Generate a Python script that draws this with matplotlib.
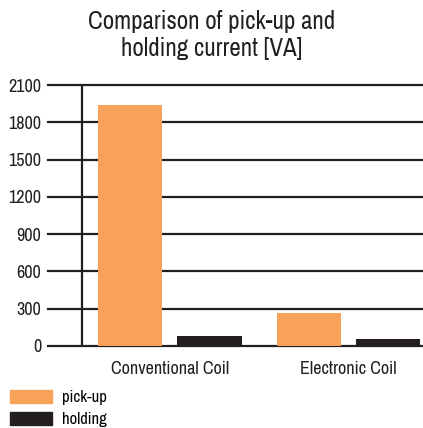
import matplotlib.pyplot as plt
from matplotlib.patches import Patch

# data
categories = ["Conventional Coil", "Electronic Coil"]
pickup = [1940, 265]
holding = [82, 60]
yticks = [0, 300, 600, 900, 1200, 1500, 1800, 2100]

orange = "#F7A15A"
dark = "#231F20"
plt.rcParams["font.family"] = ["Archivo Narrow", "DejaVu Sans"]

fig = plt.figure(figsize=(4.23, 4.28), dpi=100)
ax = fig.add_axes([48 / 423, 1 - 346 / 428, 375 / 423, 261 / 428])

x = [0, 1]
off = 0.222
w = 0.36
ax.bar([i - off for i in x], pickup, width=w, color=orange, zorder=3)
ax.bar([i + off for i in x], holding, width=w, color=dark, zorder=3)

# horizontal grid lines running from the tick labels to the right edge
for t in yticks:
    ax.axhline(t, color=dark, lw=1.6, zorder=1, clip_on=False)
ax.axvline(-0.49, color=dark, lw=1.6, zorder=2)

ax.set_xlim(-0.683, 1.418)
ax.set_ylim(0, 2100)
ax.set_yticks(yticks)
ax.set_yticklabels([str(t) for t in yticks], fontsize=13, color=dark)
ax.set_xticks(x)
ax.set_xticklabels(categories, fontsize=13, color=dark)
ax.tick_params(axis="y", length=0, pad=5)
ax.tick_params(axis="x", length=0, pad=11)
for s in ax.spines.values():
    s.set_visible(False)

fig.text(0.5, 1 - 35 / 428, "Comparison of pick-up and\nholding current [VA]",
         ha="center", va="center", fontsize=18, color=dark, linespacing=1.2)

handles = [Patch(color=orange, label="pick-up"), Patch(color=dark, label="holding")]
fig.legend(handles=handles, loc="lower left", bbox_to_anchor=(0.0, -0.022),
           frameon=False, fontsize=12, handlelength=2.5, handleheight=0.8,
           labelspacing=0.42, handletextpad=0.6, borderaxespad=0.2)

fig.savefig("out.png", dpi=100)
